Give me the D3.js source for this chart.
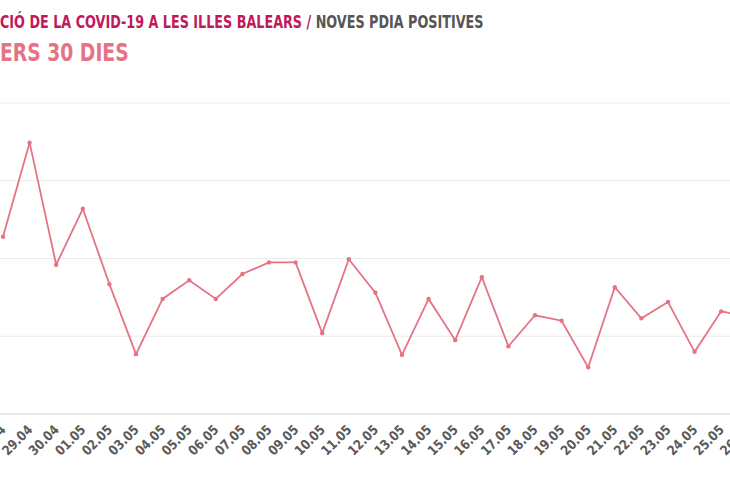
<!DOCTYPE html>
<html><head><meta charset="utf-8">
<script src="https://cdn.jsdelivr.net/npm/d3@7"></script>
<style>body{margin:0;background:#fff}svg{display:block}</style>
</head><body><div id="app"></div>
<script>
const dates = ['28.04','29.04','30.04','01.05','02.05','03.05','04.05','05.05','06.05','07.05','08.05','09.05','10.05','11.05','12.05','13.05','14.05','15.05','16.05','17.05','18.05','19.05','20.05','21.05','22.05','23.05','24.05','25.05','26.05'];
const values = [22.8,34.9,19.2,26.4,16.7,7.7,14.8,17.2,14.8,18.0,19.5,19.5,10.4,19.9,15.6,7.6,14.8,9.5,17.6,8.7,12.7,12.0,6.0,16.3,12.3,14.4,8.0,13.2,12.5];
const yTicks = [0,10,20,30,40];

const W = 730, H = 500;
const font = '"DejaVu Sans", sans-serif';
const svg = d3.select('#app').append('svg').attr('width', W).attr('height', H);

const x = d3.scalePoint().domain(dates).range([3, 3 + 26.6 * (dates.length - 1)]);
const y = d3.scaleLinear().domain([0, 40]).range([414, 103]);

// grid
svg.append('g').selectAll('line').data(yTicks).join('line')
  .attr('x1', 0).attr('x2', W)
  .attr('y1', d => y(d)).attr('y2', d => y(d))
  .attr('stroke', d => d === 0 ? '#d0d0d0' : '#ebebeb').attr('stroke-width', 1);

// x labels, condensed like the reference
svg.append('g').selectAll('text').data(dates).join('text')
  .attr('transform', d => `translate(${x(d) - 3},${424}) rotate(-45) scale(0.85,1)`)
  .attr('text-anchor', 'end').attr('dy', '0.7em')
  .attr('font-family', font).attr('font-weight', 'bold').attr('font-size', 13.5)
  .attr('fill', '#5a5a5a').text(d => d);

// line
const line = d3.line().x((d, i) => x(dates[i])).y(d => y(d));
svg.append('path').datum(values).attr('d', line)
  .attr('fill', 'none').attr('stroke', '#e57384').attr('stroke-width', 1.8);
svg.append('g').selectAll('circle').data(values).join('circle')
  .attr('cx', (d, i) => x(dates[i])).attr('cy', d => y(d)).attr('r', 2.2)
  .attr('fill', '#e57384');

// titles, cut at the left edge like the reference
function cutTitle(yPos, size, sx, parts, hidden) {
  const g = svg.append('g').attr('transform', `translate(0,${yPos}) scale(${sx},1)`);
  const t = g.append('text').attr('font-family', font)
    .attr('font-weight', 'bold').attr('font-size', size);
  parts.forEach(p => t.append('tspan').attr('fill', p[1]).text(p[0]));
  const probe = g.append('text').attr('font-family', font).attr('font-weight', 'bold')
    .attr('font-size', size).text(hidden);
  const w = probe.node().getComputedTextLength();
  probe.remove();
  t.attr('x', -w);
}
cutTitle(28, 18, 0.71, [['EVOLUCIÓ DE LA COVID-19 A LES ILLES BALEARS / ', '#c2185b'], ['NOVES PDIA POSITIVES', '#555']], 'EVOLU');
cutTitle(61, 25, 0.75, [['ELS DARRERS 30 DIES', '#e57384']], 'ELS DARR');
</script></body></html>
